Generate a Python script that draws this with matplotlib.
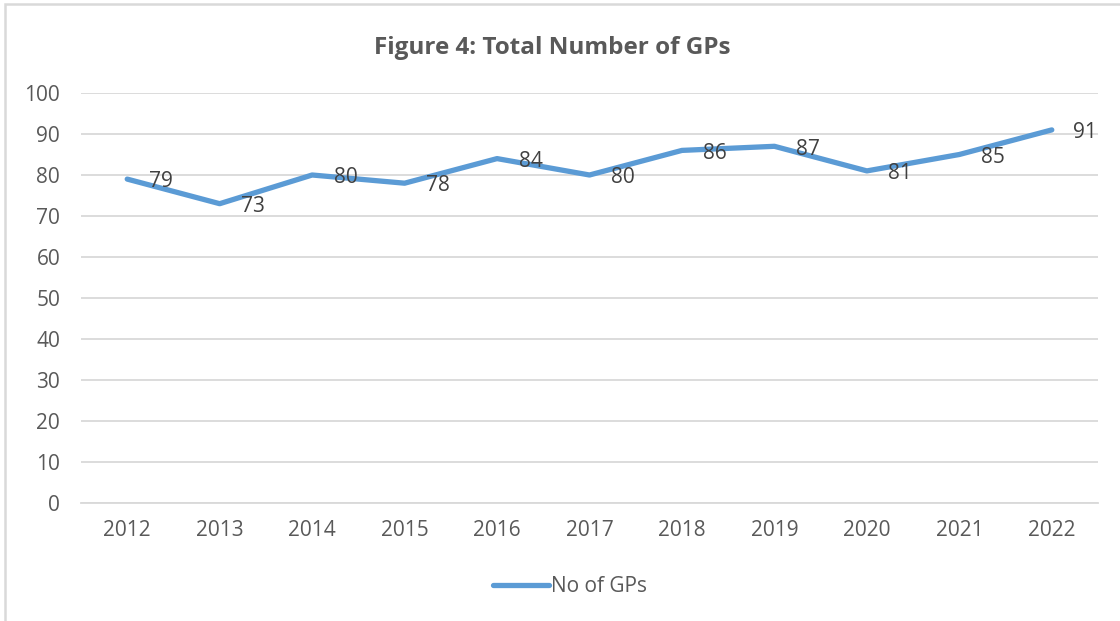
import matplotlib.pyplot as plt
from matplotlib.patches import Rectangle

years = ["2012", "2013", "2014", "2015", "2016", "2017", "2018", "2019", "2020", "2021", "2022"]
gps = [79, 73, 80, 78, 84, 80, 86, 87, 81, 85, 91]
y_ticks = list(range(0, 101, 10))

plt.rcParams['font.family'] = ['Open Sans', 'DejaVu Sans']
text_col = "#595959"
grid_col = "#D9D9D9"
line_col = "#5B9BD5"

W, H = 1120, 621
fig = plt.figure(figsize=(W / 100, H / 100), dpi=100)
fig.patch.set_facecolor("white")

# chart frame (extends past right and bottom edges)
fig.patches.append(Rectangle((5 / W, -0.05), 1.2, 1 - 4 / H + 0.05,
                             transform=fig.transFigure, fill=False,
                             edgecolor=grid_col, linewidth=1.8))

left, right = 81, 1098
top, bottom = 93, 503
ax = fig.add_axes([left / W, 1 - bottom / H, (right - left) / W, (bottom - top) / H])

x = list(range(len(years)))
line, = ax.plot(x, gps, color=line_col, linewidth=3.8, solid_capstyle='round',
                solid_joinstyle='round', label="No of GPs", zorder=3)

for xi, v in zip(x, gps):
    ax.annotate(str(v), (xi, v), xytext=(15.5, -2), textcoords="offset points",
                ha="left", va="center", fontsize=15, color="#404040", zorder=4)

ax.set_xlim(-0.5, len(years) - 0.5)
ax.set_ylim(0, 100)
ax.set_yticks(y_ticks)
ax.set_xticks(x)
ax.set_xticklabels(years)
ax.yaxis.grid(True, color=grid_col, linewidth=1.3)
ax.set_axisbelow(True)
for s in ["top", "right", "left"]:
    ax.spines[s].set_visible(False)
ax.spines["bottom"].set_color(grid_col)
ax.spines["bottom"].set_linewidth(1.3)
ax.tick_params(axis="both", length=0, labelsize=15, colors=text_col)
ax.tick_params(axis="x", pad=12)
ax.tick_params(axis="y", pad=15)

fig.text(552 / W, 1 - 48 / H, "Figure 4: Total Number of GPs", ha="center", va="center",
         fontsize=17.5, fontweight="bold", color=text_col)

leg = fig.legend(handles=[line], loc="center", bbox_to_anchor=(570 / W, 1 - 587 / H),
                 frameon=False, fontsize=15, handlelength=2.7, handletextpad=0.1,
                 labelcolor=text_col)

fig.savefig("out.png", dpi=100, facecolor="white")
